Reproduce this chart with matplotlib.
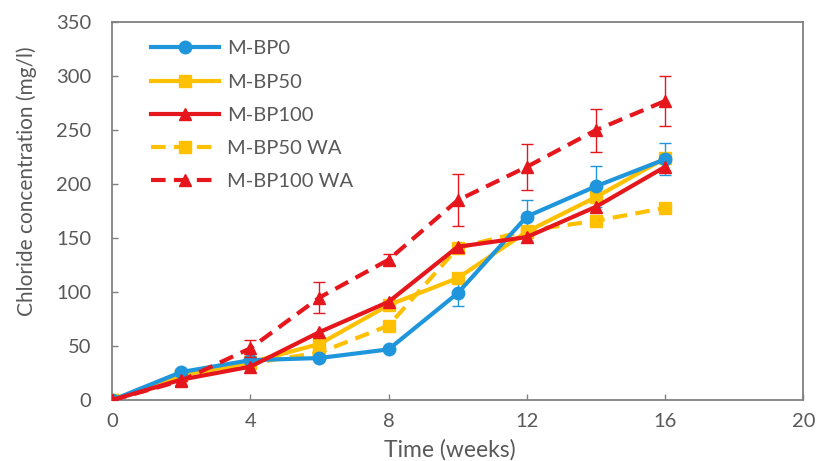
import matplotlib.pyplot as plt
import numpy as np

plt.rcParams['font.family'] = ['Lato', 'DejaVu Sans']

weeks = [0, 2, 4, 6, 8, 10, 12, 14, 16]

bp0 = [0, 26, 37, 39, 47, 99, 170, 198, 223]
bp0_err = [0, 0, 0, 0, 0, 12, 15, 19, 15]
bp50 = [0, 23, 35, 52, 88, 113, 156, 188, 224]
bp100 = [0, 19, 31, 63, 91, 142, 151, 179, 216]
bp50_wa = [0, 23, 34, 44, 69, 141, 157, 166, 178]
bp100_wa = [0, 18, 48, 95, 130, 185, 216, 250, 277]
bp100_wa_err = [0, 0, 8, 14, 5, 24, 21, 20, 23]

BLUE = '#1F96DC'
YELLOW = '#FFC000'
RED = '#E5161C'
GREY = '#595959'

fig = plt.figure(figsize=(8.18, 4.61), dpi=100)
ax = fig.add_axes([0.137, 0.132, 0.845, 0.820])

lw = 3.0
ms = 9
dash = (0, (3.5, 2))
c0 = ax.errorbar(weeks, bp0, yerr=bp0_err, color=BLUE, lw=lw, marker='o', ms=ms,
                 elinewidth=1.0, capsize=4, capthick=1.0, zorder=3)
l50, = ax.plot(weeks, bp50, color=YELLOW, lw=lw, marker='s', ms=ms - 0.5, zorder=3)
l100, = ax.plot(weeks, bp100, color=RED, lw=lw, marker='^', ms=ms, zorder=4)
l50wa, = ax.plot(weeks, bp50_wa, color=YELLOW, lw=lw, ls=dash, marker='s', ms=ms - 0.5,
                 zorder=3)
c100wa = ax.errorbar(weeks, bp100_wa, yerr=bp100_wa_err, color=RED, lw=lw, ls=dash,
                     marker='^', ms=ms, elinewidth=1.0, capsize=4, capthick=1.0, zorder=4)

ax.set_xlim(0, 20)
ax.set_ylim(0, 350)
ax.set_xticks([0, 4, 8, 12, 16, 20])
ax.set_yticks(np.arange(0, 351, 50))
ax.tick_params(direction='in', length=4, width=1, color='#808080',
               labelcolor=GREY, labelsize=14.5)
ax.tick_params(axis='y', pad=15)
ax.tick_params(axis='x', pad=9)

for s in ax.spines.values():
    s.set_color('#808080')
    s.set_linewidth(1.3)

ax.set_xlabel('Time (weeks)', fontsize=16.5, color=GREY)
ax.set_ylabel('Chloride concentration (mg/l)', fontsize=15, color=GREY)
ax.xaxis.set_label_coords(0.489, -0.102)
ax.yaxis.set_label_coords(-0.108, 0.58)

handles = [c0[0], l50, l100, l50wa, c100wa[0]]
labels = ['M-BP0', 'M-BP50', 'M-BP100', 'M-BP50 WA', 'M-BP100 WA']
leg = ax.legend(handles, labels, loc='upper left', bbox_to_anchor=(0.03, 1.0),
                frameon=False, fontsize=14.5, handlelength=3.4, labelspacing=0.8,
                handletextpad=0.4)
for t in leg.get_texts():
    t.set_color(GREY)

fig.savefig('out.png', dpi=100)
